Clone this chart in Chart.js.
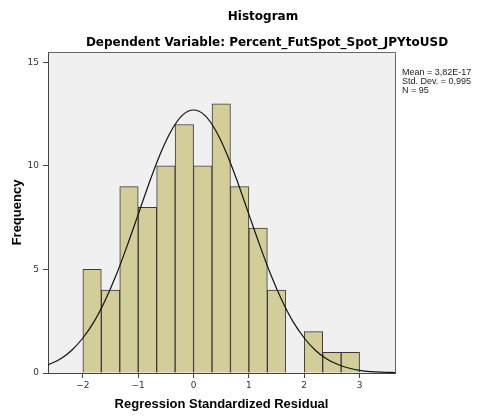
<!DOCTYPE html>
<html><head><meta charset="utf-8">
<script src="https://cdn.jsdelivr.net/npm/chart.js@4/dist/chart.umd.min.js"></script>
<style>html,body{margin:0;padding:0;background:#fff}</style>
</head><body>
<canvas id="c" width="482" height="416"></canvas>
<script>
// Histogram bins (midpoints of bins of width 1/3 from -2 to 3)
const binCenters = [-1.8333, -1.5, -1.1667, -0.8333, -0.5, -0.1667, 0.1667, 0.5, 0.8333, 1.1667, 1.5, 1.8333, 2.1667, 2.5, 2.8333];
const frequencies = [5, 4, 9, 8, 10, 12, 10, 13, 9, 7, 4, 0, 2, 1, 1];
// Normal curve
const curveX = [-2.63, -2.4, -2.2, -2.0, -1.8, -1.6, -1.4, -1.2, -1.0, -0.8, -0.6, -0.4, -0.2, 0, 0.2, 0.4, 0.6, 0.8, 1.0, 1.2, 1.4, 1.6, 1.8, 2.0, 2.2, 2.4, 2.6, 2.8, 3.0, 3.2, 3.4, 3.64];
const curveY = [0.39, 0.69, 1.10, 1.69, 2.47, 3.49, 4.72, 6.14, 7.66, 9.19, 10.59, 11.71, 12.45, 12.70, 12.45, 11.71, 10.59, 9.19, 7.66, 6.14, 4.72, 3.49, 2.47, 1.69, 1.10, 0.69, 0.42, 0.24, 0.13, 0.07, 0.04, 0.02];
const xTicks = [-2, -1, 0, 1, 2, 3];
const yTicks = [0, 5, 10, 15];
const titleText = 'Histogram';
const subtitleText = 'Dependent Variable: Percent_FutSpot_Spot_JPYtoUSD';
const statsLines = ['Mean = 3,82E-17', 'Std. Dev. = 0,995', 'N = 95'];
const xTitle = 'Regression Standardized Residual';
const yTitle = 'Frequency';

const FONT = "'DejaVu Sans', sans-serif";
const FONT2 = "'Liberation Sans', Arial, sans-serif";

const decor = {
  id: 'decor',
  beforeDraw(chart) {
    const {ctx, chartArea: a} = chart;
    ctx.save();
    ctx.fillStyle = '#f0f0f0';
    ctx.fillRect(a.left, a.top, a.right - a.left, a.bottom - a.top);
    ctx.restore();
  },
  afterDraw(chart) {
    const {ctx, chartArea: a} = chart;
    ctx.save();
    ctx.strokeStyle = '#666';
    ctx.lineWidth = 1;
    ctx.beginPath();
    ctx.moveTo(a.left, a.top + 0.5); ctx.lineTo(a.right + 0.5, a.top + 0.5); ctx.lineTo(a.right + 0.5, a.bottom);
    ctx.stroke();
    ctx.fillStyle = '#000';
    ctx.textAlign = 'center';
    ctx.textBaseline = 'middle';
    ctx.font = 'bold 12px ' + FONT;
    ctx.fillText(titleText, 263, 17);
    ctx.fillText(subtitleText, 267, 43);
    ctx.textAlign = 'left';
    ctx.font = '9px ' + FONT2;
    ctx.fillStyle = '#222';
    statsLines.forEach((t, i) => ctx.fillText(t, 402, 73 + i * 9));
    ctx.restore();
  }
};

new Chart(document.getElementById('c'), {
  type: 'bar',
  data: {
    datasets: [
      {
        type: 'line',
        data: curveX.map((x, i) => ({x, y: curveY[i]})),
        borderColor: '#111',
        borderWidth: 1.2,
        pointRadius: 0,
        cubicInterpolationMode: 'monotone',
        fill: false,
        order: 0
      },
      {
        type: 'bar',
        data: binCenters.map((x, i) => ({x, y: frequencies[i]})),
        backgroundColor: '#d3ce99',
        borderColor: '#3a3a3a',
        borderWidth: 1,
        barPercentage: 1.0,
        categoryPercentage: 1.0,
        grouped: false,
        order: 1
      }
    ]
  },
  options: {
    responsive: false,
    animation: false,
    devicePixelRatio: 1,
    layout: {padding: {left: 0, top: 52, right: 87, bottom: 0}},
    plugins: {legend: {display: false}, tooltip: {enabled: false}},
    scales: {
      x: {
        type: 'linear', min: -2.63, max: 3.64, offset: false,
        afterBuildTicks: s => { s.ticks = xTicks.map(v => ({value: v})); },
        afterFit: s => { s.height = 43; },
        ticks: {font: {family: FONT, size: 9}, color: '#333', padding: 2, maxRotation: 0, autoSkip: false,
                callback: v => String(v).replace('-', '\u2212')},
        grid: {display: true, drawOnChartArea: false, drawTicks: true, tickLength: 5, color: '#444', offset: false},
        border: {display: true, color: '#444'},
        title: {display: true, text: xTitle, color: '#000', font: {family: FONT2, size: 13, weight: 'bold'}, padding: {top: 0, bottom: 4}}
      },
      y: {
        min: 0, max: 15.5,
        afterBuildTicks: s => { s.ticks = yTicks.map(v => ({value: v})); },
        afterFit: s => { s.width = 48; },
        ticks: {font: {family: FONT, size: 9}, color: '#333', padding: 4},
        grid: {display: true, drawOnChartArea: false, drawTicks: true, tickLength: 5, color: '#444'},
        border: {display: true, color: '#444'},
        title: {display: true, text: yTitle, color: '#000', font: {family: FONT2, size: 13, weight: 'bold'}, padding: {top: 10, bottom: 0}}
      }
    }
  },
  plugins: [decor]
});
</script>
</body></html>
